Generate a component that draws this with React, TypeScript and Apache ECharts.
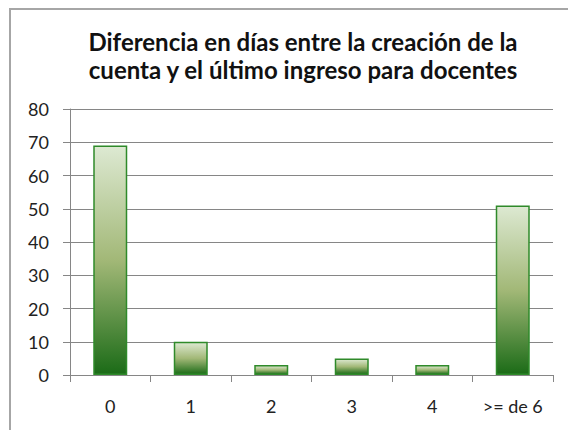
import React, { useEffect, useRef } from "react";
import * as echarts from "echarts";

const categories = ["0", "1", "2", "3", "4", ">= de 6"];
const values = [69, 10, 3, 5, 3, 51];
const titleLines = [
  "Diferencia en días entre la creación de la",
  "cuenta y el último ingreso para docentes",
];
const yTicks = { min: 0, max: 80, interval: 10 };

export default function App() {
  const ref = useRef<HTMLDivElement>(null);
  useEffect(() => {
    document.body.style.margin = "0";
    const chart = echarts.init(ref.current!, null, { renderer: "svg" });
    const font = "Lato, 'Open Sans', sans-serif";
    chart.setOption({
      animation: false,
      backgroundColor: "#ffffff",
      grid: { left: 70, right: 15, top: 109, bottom: 55, containLabel: false },
      graphic: [
        {
          type: "rect",
          shape: { x: 10, y: 9, width: 700, height: 600 },
          style: { fill: "none", stroke: "#a6a6a6", lineWidth: 2 },
          silent: true,
        },
        {
          type: "text",
          x: 303,
          y: 41,
          style: {
            text: titleLines[0],
            font: `bold 24px ${font}`,
            fill: "#111111",
            textAlign: "center",
            textVerticalAlign: "middle",
          },
        },
        {
          type: "text",
          x: 303,
          y: 69,
          style: {
            text: titleLines[1],
            font: `bold 24px ${font}`,
            fill: "#111111",
            textAlign: "center",
            textVerticalAlign: "middle",
          },
        },
      ],
      xAxis: {
        type: "category",
        data: categories,
        axisLine: { show: true, lineStyle: { color: "#868686", width: 1 } },
        axisTick: { show: true, length: 7, lineStyle: { color: "#868686" } },
        axisLabel: { fontSize: 18, fontFamily: font, color: "#222222", margin: 22 },
      },
      yAxis: {
        type: "value",
        min: yTicks.min,
        max: yTicks.max,
        interval: yTicks.interval,
        axisLine: { show: true, lineStyle: { color: "#868686", width: 1 } },
        axisTick: { show: true, length: 7, lineStyle: { color: "#868686" } },
        axisLabel: { fontSize: 18, fontFamily: font, color: "#222222", margin: 21 },
        splitLine: { show: true, lineStyle: { color: "#868686", width: 1 } },
      },
      series: [
        {
          type: "bar",
          data: values,
          barWidth: 34,
          itemStyle: {
            color: new echarts.graphic.LinearGradient(0, 0, 0, 1, [
              { offset: 0, color: "#dde9d2" },
              { offset: 0.5, color: "#a2b877" },
              { offset: 1, color: "#1b6b17" },
            ]),
            borderColor: "#2f8a2a",
            borderWidth: 1.5,
          },
        },
      ],
    });
    return () => chart.dispose();
  }, []);
  return <div ref={ref} style={{ width: 568, height: 430 }} />;
}
